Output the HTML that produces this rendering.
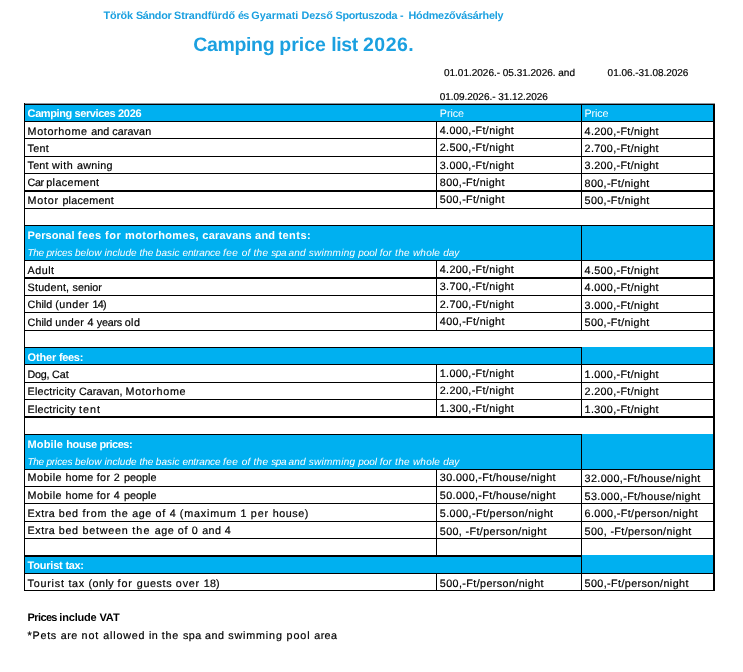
<!DOCTYPE html>
<html lang="en">
<head>
<meta charset="utf-8">
<title>Camping price list 2026.</title>
<style>
html,body{margin:0;padding:0;background:#fff}
body{width:743px;height:672px;position:relative;overflow:hidden;font-family:"Liberation Sans",sans-serif}
#sheet{position:absolute;left:0;top:0;width:743px;height:672px;will-change:transform}
.r{position:absolute}
.t{position:absolute;white-space:pre;text-rendering:geometricPrecision;line-height:16px;font-family:"Liberation Sans",sans-serif}
</style>
</head>
<body>
<div id="sheet">
<div class="r" style="left:24px;top:104px;width:691px;height:17px;background:#00b0f0"></div>
<div class="r" style="left:24px;top:225px;width:691px;height:35px;background:#00b0f0"></div>
<div class="r" style="left:24px;top:347px;width:691px;height:17px;background:#00b0f0"></div>
<div class="r" style="left:24px;top:434px;width:691px;height:35px;background:#00b0f0"></div>
<div class="r" style="left:24px;top:555px;width:691px;height:18px;background:#00b0f0"></div>
<div class="r" style="left:24px;top:104px;width:691px;height:1px;background:#000"></div>
<div class="r" style="left:24px;top:121px;width:691px;height:1px;background:#000"></div>
<div class="r" style="left:24px;top:138px;width:691px;height:1px;background:#000"></div>
<div class="r" style="left:24px;top:156px;width:691px;height:1px;background:#000"></div>
<div class="r" style="left:24px;top:173px;width:691px;height:1px;background:#000"></div>
<div class="r" style="left:24px;top:190px;width:691px;height:2px;background:#000"></div>
<div class="r" style="left:24px;top:208px;width:691px;height:1px;background:#000"></div>
<div class="r" style="left:24px;top:225px;width:691px;height:1px;background:#000"></div>
<div class="r" style="left:24px;top:260px;width:691px;height:1px;background:#000"></div>
<div class="r" style="left:24px;top:277px;width:691px;height:2px;background:#000"></div>
<div class="r" style="left:24px;top:295px;width:691px;height:1px;background:#000"></div>
<div class="r" style="left:24px;top:312px;width:691px;height:1px;background:#000"></div>
<div class="r" style="left:24px;top:330px;width:691px;height:1px;background:#000"></div>
<div class="r" style="left:24px;top:364px;width:691px;height:1px;background:#000"></div>
<div class="r" style="left:24px;top:382px;width:691px;height:1px;background:#000"></div>
<div class="r" style="left:24px;top:399px;width:691px;height:1px;background:#000"></div>
<div class="r" style="left:24px;top:416px;width:691px;height:2px;background:#000"></div>
<div class="r" style="left:24px;top:469px;width:691px;height:1px;background:#000"></div>
<div class="r" style="left:24px;top:486px;width:691px;height:1px;background:#000"></div>
<div class="r" style="left:24px;top:503px;width:691px;height:1px;background:#000"></div>
<div class="r" style="left:24px;top:521px;width:691px;height:1px;background:#000"></div>
<div class="r" style="left:24px;top:538px;width:691px;height:1px;background:#000"></div>
<div class="r" style="left:24px;top:573px;width:691px;height:1px;background:#000"></div>
<div class="r" style="left:24px;top:590px;width:691px;height:1px;background:#000"></div>
<div class="r" style="left:24px;top:103px;width:691px;height:1px;background:rgba(0,20,40,.45)"></div>
<div class="r" style="left:24px;top:347px;width:558px;height:1px;background:#000"></div>
<div class="r" style="left:24px;top:434px;width:558px;height:1px;background:#000"></div>
<div class="r" style="left:24px;top:555px;width:558px;height:2px;background:#000"></div>
<div class="r" style="left:24px;top:103px;width:1px;height:488px;background:#000"></div>
<div class="r" style="left:713px;top:104px;width:2px;height:487px;background:#000"></div>
<div class="r" style="left:581px;top:104px;width:1px;height:105px;background:#000"></div>
<div class="r" style="left:581px;top:225px;width:1px;height:106px;background:#000"></div>
<div class="r" style="left:581px;top:347px;width:1px;height:70px;background:#000"></div>
<div class="r" style="left:581px;top:434px;width:1px;height:157px;background:#000"></div>
<div class="r" style="left:436px;top:121px;width:1px;height:88px;background:#000"></div>
<div class="r" style="left:436px;top:260px;width:1px;height:71px;background:#000"></div>
<div class="r" style="left:436px;top:364px;width:1px;height:53px;background:#000"></div>
<div class="r" style="left:436px;top:469px;width:1px;height:87px;background:#000"></div>
<div class="r" style="left:436px;top:573px;width:1px;height:18px;background:#000"></div>
<div class="t" style="left:103.50px;top:8px;font-size:10.8px;letter-spacing:-0.154px;color:#1ba0e0;font-weight:bold"><span style="letter-spacing:-0.100px">Török </span><span style="letter-spacing:-0.286px">Sándor </span><span style="letter-spacing:-0.083px">Strandfürdő </span><span style="letter-spacing:-0.571px">és </span><span style="letter-spacing:0.053px">Gyarmati </span><span style="letter-spacing:-0.118px">Dezső </span><span style="letter-spacing:-0.334px">Sportuszoda </span><span style="letter-spacing:0.951px">- </span><span style="letter-spacing:-0.229px">Hódmezővásárhely</span></div>
<div class="t" style="left:193.30px;top:37px;font-size:19.5px;letter-spacing:-0.155px;color:#1ba0e0;font-weight:bold"><span style="letter-spacing:-0.354px">Camping </span><span style="letter-spacing:-0.021px">price </span><span style="letter-spacing:-0.358px">list </span><span style="letter-spacing:0.478px">2026.</span></div>
<div class="t" style="left:444.00px;top:66px;font-size:10px;letter-spacing:-0.009px;color:#000;-webkit-text-stroke:0.2px">01.01.2026.- 05.31.2026. and</div>
<div class="t" style="left:607.60px;top:66px;font-size:10px;letter-spacing:-0.024px;color:#000;-webkit-text-stroke:0.2px">01.06.-31.08.2026</div>
<div class="t" style="left:439.80px;top:90px;font-size:10px;letter-spacing:-0.045px;color:#000;-webkit-text-stroke:0.2px">01.09.2026.- 31.12.2026</div>
<div class="t" style="left:27.60px;top:106px;font-size:11px;letter-spacing:-0.379px;color:#fff;font-weight:bold"><span style="letter-spacing:-0.402px">Camping </span><span style="letter-spacing:-0.411px">services </span><span style="letter-spacing:-0.225px">2026</span></div>
<div class="t" style="left:439.80px;top:106px;font-size:10.75px;letter-spacing:-0.072px;color:#fff">Price</div>
<div class="t" style="left:584.60px;top:106px;font-size:10.75px;letter-spacing:-0.172px;color:#fff">Price</div>
<div class="t" style="left:27.60px;top:124px;font-size:10.75px;letter-spacing:0.354px;color:#000;-webkit-text-stroke:0.2px"><span style="letter-spacing:0.624px">Motorhome </span><span style="letter-spacing:0.019px">and </span><span style="letter-spacing:0.125px">caravan</span></div>
<div class="t" style="left:439.80px;top:123px;font-size:10.75px;letter-spacing:0.335px;color:#000;-webkit-text-stroke:0.2px">4.000,-Ft/night</div>
<div class="t" style="left:584.60px;top:124px;font-size:10.75px;letter-spacing:0.335px;color:#000;-webkit-text-stroke:0.2px">4.200,-Ft/night</div>
<div class="t" style="left:27.60px;top:141px;font-size:10.75px;letter-spacing:0.294px;color:#000;-webkit-text-stroke:0.2px">Tent</div>
<div class="t" style="left:439.80px;top:140px;font-size:10.75px;letter-spacing:0.335px;color:#000;-webkit-text-stroke:0.2px">2.500,-Ft/night</div>
<div class="t" style="left:584.60px;top:141px;font-size:10.75px;letter-spacing:0.335px;color:#000;-webkit-text-stroke:0.2px">2.700,-Ft/night</div>
<div class="t" style="left:27.60px;top:158px;font-size:10.75px;letter-spacing:0.355px;color:#000;-webkit-text-stroke:0.2px"><span style="letter-spacing:0.203px">Tent </span><span style="letter-spacing:0.575px">with </span><span style="letter-spacing:0.287px">awning</span></div>
<div class="t" style="left:439.80px;top:158px;font-size:10.75px;letter-spacing:0.335px;color:#000;-webkit-text-stroke:0.2px">3.000,-Ft/night</div>
<div class="t" style="left:584.60px;top:158px;font-size:10.75px;letter-spacing:0.335px;color:#000;-webkit-text-stroke:0.2px">3.200,-Ft/night</div>
<div class="t" style="left:27.60px;top:175px;font-size:10.75px;letter-spacing:0.133px;color:#000;-webkit-text-stroke:0.2px"><span style="letter-spacing:-0.427px">Car </span><span style="letter-spacing:0.412px">placement</span></div>
<div class="t" style="left:439.80px;top:175px;font-size:10.75px;letter-spacing:0.354px;color:#000;-webkit-text-stroke:0.2px">800,-Ft/night</div>
<div class="t" style="left:584.60px;top:176px;font-size:10.75px;letter-spacing:0.354px;color:#000;-webkit-text-stroke:0.2px">800,-Ft/night</div>
<div class="t" style="left:27.60px;top:193px;font-size:10.75px;letter-spacing:0.438px;color:#000;-webkit-text-stroke:0.2px"><span style="letter-spacing:0.722px">Motor </span><span style="letter-spacing:0.225px">placement</span></div>
<div class="t" style="left:439.80px;top:192px;font-size:10.75px;letter-spacing:0.354px;color:#000;-webkit-text-stroke:0.2px">500,-Ft/night</div>
<div class="t" style="left:584.60px;top:193px;font-size:10.75px;letter-spacing:0.354px;color:#000;-webkit-text-stroke:0.2px">500,-Ft/night</div>
<div class="t" style="left:27.60px;top:263px;font-size:10.75px;letter-spacing:0.500px;color:#000;-webkit-text-stroke:0.2px">Adult</div>
<div class="t" style="left:439.80px;top:262px;font-size:10.75px;letter-spacing:0.335px;color:#000;-webkit-text-stroke:0.2px">4.200,-Ft/night</div>
<div class="t" style="left:584.60px;top:263px;font-size:10.75px;letter-spacing:0.335px;color:#000;-webkit-text-stroke:0.2px">4.500,-Ft/night</div>
<div class="t" style="left:27.60px;top:280px;font-size:10.75px;letter-spacing:0.142px;color:#000;-webkit-text-stroke:0.2px"><span style="letter-spacing:0.208px">Student, </span><span style="letter-spacing:0.023px">senior</span></div>
<div class="t" style="left:439.80px;top:279px;font-size:10.75px;letter-spacing:0.335px;color:#000;-webkit-text-stroke:0.2px">3.700,-Ft/night</div>
<div class="t" style="left:584.60px;top:280px;font-size:10.75px;letter-spacing:0.335px;color:#000;-webkit-text-stroke:0.2px">4.000,-Ft/night</div>
<div class="t" style="left:27.60px;top:297px;font-size:10.75px;letter-spacing:0.128px;color:#000;-webkit-text-stroke:0.2px"><span style="letter-spacing:0.036px">Child </span><span style="letter-spacing:0.463px">(under </span><span style="letter-spacing:-0.767px">14)</span></div>
<div class="t" style="left:439.80px;top:297px;font-size:10.75px;letter-spacing:0.335px;color:#000;-webkit-text-stroke:0.2px">2.700,-Ft/night</div>
<div class="t" style="left:584.60px;top:298px;font-size:10.75px;letter-spacing:0.335px;color:#000;-webkit-text-stroke:0.2px">3.000,-Ft/night</div>
<div class="t" style="left:27.60px;top:315px;font-size:10.75px;letter-spacing:0.079px;color:#000;-webkit-text-stroke:0.2px"><span style="letter-spacing:0.036px">Child </span><span style="letter-spacing:0.286px">under </span><span style="letter-spacing:0.167px">4 </span><span style="letter-spacing:-0.246px">years </span><span style="letter-spacing:0.480px">old</span></div>
<div class="t" style="left:439.80px;top:314px;font-size:10.75px;letter-spacing:0.354px;color:#000;-webkit-text-stroke:0.2px">400,-Ft/night</div>
<div class="t" style="left:584.60px;top:315px;font-size:10.75px;letter-spacing:0.354px;color:#000;-webkit-text-stroke:0.2px">500,-Ft/night</div>
<div class="t" style="left:27.60px;top:367px;font-size:10.75px;letter-spacing:-0.188px;color:#000;-webkit-text-stroke:0.2px"><span style="letter-spacing:-0.239px">Dog, </span><span style="letter-spacing:-0.063px">Cat</span></div>
<div class="t" style="left:439.80px;top:366px;font-size:10.75px;letter-spacing:0.335px;color:#000;-webkit-text-stroke:0.2px">1.000,-Ft/night</div>
<div class="t" style="left:584.60px;top:367px;font-size:10.75px;letter-spacing:0.335px;color:#000;-webkit-text-stroke:0.2px">1.000,-Ft/night</div>
<div class="t" style="left:27.60px;top:384px;font-size:10.75px;letter-spacing:0.278px;color:#000;-webkit-text-stroke:0.2px"><span style="letter-spacing:0.202px">Electricity </span><span style="letter-spacing:-0.012px">Caravan, </span><span style="letter-spacing:0.716px">Motorhome</span></div>
<div class="t" style="left:439.80px;top:383px;font-size:10.75px;letter-spacing:0.335px;color:#000;-webkit-text-stroke:0.2px">2.200,-Ft/night</div>
<div class="t" style="left:584.60px;top:384px;font-size:10.75px;letter-spacing:0.335px;color:#000;-webkit-text-stroke:0.2px">2.200,-Ft/night</div>
<div class="t" style="left:27.60px;top:402px;font-size:10.75px;letter-spacing:0.359px;color:#000;-webkit-text-stroke:0.2px"><span style="letter-spacing:0.202px">Electricity </span><span style="letter-spacing:0.990px">tent</span></div>
<div class="t" style="left:439.80px;top:401px;font-size:10.75px;letter-spacing:0.335px;color:#000;-webkit-text-stroke:0.2px">1.300,-Ft/night</div>
<div class="t" style="left:584.60px;top:402px;font-size:10.75px;letter-spacing:0.335px;color:#000;-webkit-text-stroke:0.2px">1.300,-Ft/night</div>
<div class="t" style="left:27.60px;top:470px;font-size:10.75px;letter-spacing:0.325px;color:#000;-webkit-text-stroke:0.2px"><span style="letter-spacing:0.449px">Mobile </span><span style="letter-spacing:0.284px">home </span><span style="letter-spacing:0.392px">for </span><span style="letter-spacing:0.567px">2 </span><span style="letter-spacing:0.044px">people</span></div>
<div class="t" style="left:439.80px;top:470px;font-size:10.75px;letter-spacing:0.387px;color:#000;-webkit-text-stroke:0.2px">30.000,-Ft/house/night</div>
<div class="t" style="left:584.60px;top:471px;font-size:10.75px;letter-spacing:0.387px;color:#000;-webkit-text-stroke:0.2px">32.000,-Ft/house/night</div>
<div class="t" style="left:27.60px;top:488px;font-size:10.75px;letter-spacing:0.325px;color:#000;-webkit-text-stroke:0.2px"><span style="letter-spacing:0.449px">Mobile </span><span style="letter-spacing:0.284px">home </span><span style="letter-spacing:0.392px">for </span><span style="letter-spacing:0.567px">4 </span><span style="letter-spacing:0.044px">people</span></div>
<div class="t" style="left:439.80px;top:488px;font-size:10.75px;letter-spacing:0.387px;color:#000;-webkit-text-stroke:0.2px">50.000,-Ft/house/night</div>
<div class="t" style="left:584.60px;top:489px;font-size:10.75px;letter-spacing:0.387px;color:#000;-webkit-text-stroke:0.2px">53.000,-Ft/house/night</div>
<div class="t" style="left:27.60px;top:506px;font-size:10.75px;letter-spacing:0.707px;color:#000;-webkit-text-stroke:0.2px"><span style="letter-spacing:0.504px">Extra </span><span style="letter-spacing:0.719px">bed </span><span style="letter-spacing:0.843px">from </span><span style="letter-spacing:0.742px">the </span><span style="letter-spacing:0.619px">age </span><span style="letter-spacing:0.749px">of </span><span style="letter-spacing:0.517px">4 </span><span style="letter-spacing:0.850px">(maximum </span><span style="letter-spacing:0.667px">1 </span><span style="letter-spacing:0.869px">per </span><span style="letter-spacing:0.525px">house)</span></div>
<div class="t" style="left:439.80px;top:506px;font-size:10.75px;letter-spacing:0.382px;color:#000;-webkit-text-stroke:0.2px">5.000,-Ft/person/night</div>
<div class="t" style="left:584.60px;top:506px;font-size:10.75px;letter-spacing:0.382px;color:#000;-webkit-text-stroke:0.2px">6.000,-Ft/person/night</div>
<div class="t" style="left:27.60px;top:523px;font-size:10.75px;letter-spacing:0.677px;color:#000;-webkit-text-stroke:0.2px"><span style="letter-spacing:0.504px">Extra </span><span style="letter-spacing:0.719px">bed </span><span style="letter-spacing:0.746px">between </span><span style="letter-spacing:1.167px">the </span><span style="letter-spacing:0.544px">age </span><span style="letter-spacing:0.616px">of </span><span style="letter-spacing:0.767px">0 </span><span style="letter-spacing:0.419px">and </span><span style="letter-spacing:-0.077px">4</span></div>
<div class="t" style="left:439.80px;top:524px;font-size:10.75px;letter-spacing:0.375px;color:#000;-webkit-text-stroke:0.2px">500, -Ft/person/night</div>
<div class="t" style="left:584.60px;top:524px;font-size:10.75px;letter-spacing:0.375px;color:#000;-webkit-text-stroke:0.2px">500, -Ft/person/night</div>
<div class="t" style="left:27.60px;top:576px;font-size:10.75px;letter-spacing:0.667px;color:#000;-webkit-text-stroke:0.2px"><span style="letter-spacing:0.769px">Tourist </span><span style="letter-spacing:0.718px">tax </span><span style="letter-spacing:0.435px">(only </span><span style="letter-spacing:0.942px">for </span><span style="letter-spacing:0.620px">guests </span><span style="letter-spacing:0.820px">over </span><span style="letter-spacing:0.083px">18)</span></div>
<div class="t" style="left:439.80px;top:576px;font-size:10.75px;letter-spacing:0.399px;color:#000;-webkit-text-stroke:0.2px">500,-Ft/person/night</div>
<div class="t" style="left:584.60px;top:576px;font-size:10.75px;letter-spacing:0.399px;color:#000;-webkit-text-stroke:0.2px">500,-Ft/person/night</div>
<div class="t" style="left:27.60px;top:228px;font-size:11px;letter-spacing:0.305px;color:#fff;font-weight:bold"><span style="letter-spacing:0.075px">Personal </span><span style="letter-spacing:0.426px">fees </span><span style="letter-spacing:0.595px">for </span><span style="letter-spacing:0.372px">motorhomes, </span><span style="letter-spacing:0.226px">caravans </span><span style="letter-spacing:0.172px">and </span><span style="letter-spacing:0.452px">tents:</span></div>
<div class="t" style="left:27.40px;top:246px;font-size:10px;letter-spacing:0.067px;color:#fff;font-style:italic"><span style="letter-spacing:-0.240px">The </span><span style="letter-spacing:-0.143px">prices </span><span style="letter-spacing:0.116px">below </span><span style="letter-spacing:0.067px">include </span><span style="letter-spacing:-0.095px">the </span><span style="letter-spacing:0.079px">basic </span><span style="letter-spacing:-0.122px">entrance </span><span style="letter-spacing:0.480px">fee </span><span style="letter-spacing:0.261px">of </span><span style="letter-spacing:0.255px">the </span><span style="letter-spacing:-0.425px">spa </span><span style="letter-spacing:0.184px">and </span><span style="letter-spacing:0.269px">swimming </span><span style="letter-spacing:-0.067px">pool </span><span style="letter-spacing:0.238px">for </span><span style="letter-spacing:0.280px">the </span><span style="letter-spacing:0.216px">whole </span><span style="letter-spacing:-0.015px">day</span></div>
<div class="t" style="left:27.60px;top:350px;font-size:11px;letter-spacing:-0.237px;color:#fff;font-weight:bold"><span style="letter-spacing:-0.166px">Other </span><span style="letter-spacing:-0.346px">fees:</span></div>
<div class="t" style="left:27.60px;top:437px;font-size:11px;letter-spacing:-0.232px;color:#fff;font-weight:bold"><span style="letter-spacing:0.102px">Mobile </span><span style="letter-spacing:-0.375px">house </span><span style="letter-spacing:-0.478px">prices:</span></div>
<div class="t" style="left:27.40px;top:455px;font-size:10px;letter-spacing:0.067px;color:#fff;font-style:italic"><span style="letter-spacing:-0.240px">The </span><span style="letter-spacing:-0.143px">prices </span><span style="letter-spacing:0.116px">below </span><span style="letter-spacing:0.067px">include </span><span style="letter-spacing:-0.095px">the </span><span style="letter-spacing:0.079px">basic </span><span style="letter-spacing:-0.122px">entrance </span><span style="letter-spacing:0.480px">fee </span><span style="letter-spacing:0.261px">of </span><span style="letter-spacing:0.255px">the </span><span style="letter-spacing:-0.425px">spa </span><span style="letter-spacing:0.184px">and </span><span style="letter-spacing:0.269px">swimming </span><span style="letter-spacing:-0.067px">pool </span><span style="letter-spacing:0.238px">for </span><span style="letter-spacing:0.280px">the </span><span style="letter-spacing:0.216px">whole </span><span style="letter-spacing:-0.015px">day</span></div>
<div class="t" style="left:27.60px;top:558px;font-size:11px;letter-spacing:-0.244px;color:#fff;font-weight:bold"><span style="letter-spacing:-0.214px">Tourist </span><span style="letter-spacing:-0.319px">tax:</span></div>
<div class="t" style="left:27.60px;top:610px;font-size:11px;letter-spacing:-0.354px;color:#000;font-weight:bold"><span style="letter-spacing:-0.626px">Prices </span><span style="letter-spacing:-0.183px">include </span><span style="letter-spacing:-0.086px">VAT</span></div>
<div class="t" style="left:27.60px;top:628px;font-size:10.75px;letter-spacing:0.715px;color:#000;-webkit-text-stroke:0.2px"><span style="letter-spacing:0.737px">*Pets </span><span style="letter-spacing:0.544px">are </span><span style="letter-spacing:0.992px">not </span><span style="letter-spacing:0.782px">allowed </span><span style="letter-spacing:0.449px">in </span><span style="letter-spacing:0.842px">the </span><span style="letter-spacing:0.395px">spa </span><span style="letter-spacing:0.594px">and </span><span style="letter-spacing:0.837px">swimming </span><span style="letter-spacing:0.878px">pool </span><span style="letter-spacing:0.393px">area</span></div>
</div>
</body>
</html>
